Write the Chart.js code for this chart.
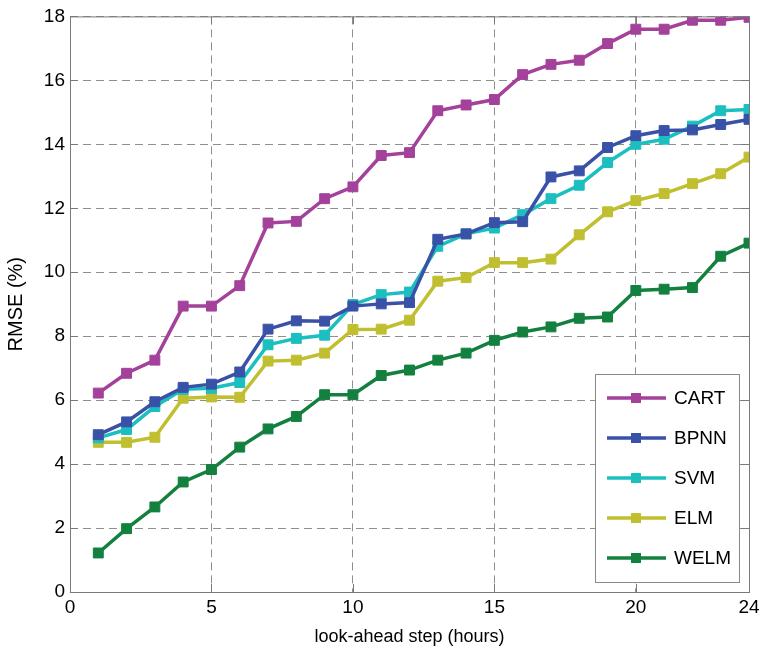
<!DOCTYPE html>
<html>
<head>
<meta charset="utf-8">
<script src="https://cdn.jsdelivr.net/npm/chart.js@4.4.1/dist/chart.umd.min.js"></script>
<style>
  html, body { margin: 0; padding: 0; background: #fff; }
</style>
</head>
<body>
<canvas id="myChart" width="760" height="652"></canvas>
<script>
// data
const steps = [1, 2, 3, 4, 5, 6, 7, 8, 9, 10, 11, 12, 13, 14, 15, 16, 17, 18, 19, 20, 21, 22, 23, 24];
const xTicks = [0, 5, 10, 15, 20, 24];
const yTicks = [0, 2, 4, 6, 8, 10, 12, 14, 16, 18];

const cart = [6.22, 6.84, 7.25, 8.94, 8.94, 9.58, 11.54, 11.59, 12.3, 12.67, 13.65, 13.74, 15.05, 15.23, 15.4, 16.18, 16.5, 16.63, 17.15, 17.6, 17.6, 17.88, 17.88, 17.97];
const bpnn = [4.92, 5.32, 5.95, 6.4, 6.5, 6.88, 8.22, 8.48, 8.47, 8.94, 9.01, 9.05, 11.03, 11.2, 11.55, 11.58, 12.98, 13.17, 13.9, 14.27, 14.43, 14.45, 14.62, 14.78];
const svm = [4.82, 5.08, 5.8, 6.34, 6.37, 6.55, 7.73, 7.93, 8.03, 8.99, 9.3, 9.38, 10.81, 11.2, 11.38, 11.8, 12.3, 12.72, 13.43, 14.0, 14.16, 14.57, 15.05, 15.09];
const elm = [4.68, 4.68, 4.84, 6.06, 6.1, 6.09, 7.22, 7.25, 7.47, 8.21, 8.22, 8.5, 9.72, 9.83, 10.3, 10.3, 10.41, 11.17, 11.89, 12.24, 12.46, 12.77, 13.08, 13.6];
const welm = [1.22, 1.98, 2.66, 3.44, 3.83, 4.53, 5.1, 5.49, 6.17, 6.17, 6.77, 6.94, 7.25, 7.47, 7.87, 8.13, 8.29, 8.56, 8.6, 9.43, 9.47, 9.52, 10.5, 10.91];

const names = ["CART", "BPNN", "SVM", "ELM", "WELM"];
const series = [cart, bpnn, svm, elm, welm];
const colors = ["#a3419b", "#3a51a8", "#1cbfc0", "#c0bf30", "#13803f"];

const fontFam = "'Liberation Sans', Arial, sans-serif";
const gridColor = "#8f8f8f";

// frame with inward ticks, like the matlab box
const framePlugin = {
  id: "frame",
  afterDraw(chart) {
    const { ctx, chartArea: a, scales } = chart;
    ctx.save();
    ctx.strokeStyle = "#7a7a7a";
    ctx.lineWidth = 1;
    ctx.strokeRect(a.left + 0.5, a.top + 0.5, a.right - a.left, a.bottom - a.top);
    ctx.beginPath();
    xTicks.forEach((v) => {
      const px = Math.round(scales.x.getPixelForValue(v)) + 0.5;
      ctx.moveTo(px, a.bottom); ctx.lineTo(px, a.bottom - 8);
      ctx.moveTo(px, a.top); ctx.lineTo(px, a.top + 8);
    });
    yTicks.forEach((v) => {
      const py = Math.round(scales.y.getPixelForValue(v)) + 0.5;
      ctx.moveTo(a.left, py); ctx.lineTo(a.left + 8, py);
      ctx.moveTo(a.right, py); ctx.lineTo(a.right - 8, py);
    });
    ctx.stroke();
    ctx.restore();
  },
};

// legend box in the lower right corner
const legendBox = {
  id: "legendBox",
  afterDraw(chart) {
    const { ctx, chartArea: a } = chart;
    const w = 144, h = 208;
    const x0 = a.right - 10 - w, y0 = a.bottom - 10 - h;
    ctx.save();
    ctx.fillStyle = "#fff";
    ctx.fillRect(x0, y0, w, h);
    ctx.strokeStyle = "#8a8a8a";
    ctx.lineWidth = 1;
    ctx.strokeRect(x0 + 0.5, y0 + 0.5, w, h);
    chart.data.datasets.forEach((ds, i) => {
      const y = y0 + 24 + i * 40;
      ctx.strokeStyle = ds.borderColor;
      ctx.lineWidth = 3.5;
      ctx.beginPath();
      ctx.moveTo(x0 + 12, y);
      ctx.lineTo(x0 + 71, y);
      ctx.stroke();
      ctx.fillStyle = ds.borderColor;
      ctx.fillRect(x0 + 41 - 5, y - 5, 10, 10);
      ctx.fillStyle = "#000";
      ctx.font = "19px " + fontFam;
      ctx.textBaseline = "middle";
      ctx.fillText(ds.label, x0 + 79, y + 1);
    });
    ctx.restore();
  },
};

const ctx = document.getElementById("myChart").getContext("2d");
const chart = new Chart(ctx, {
  type: "line",
  data: {
    labels: steps,
    datasets: names.map((n, i) => ({
      label: n,
      data: steps.map((s, j) => ({ x: s, y: series[i][j] })),
      borderColor: colors[i],
      backgroundColor: colors[i],
      borderWidth: 3.5,
      pointStyle: "rect",
      pointRadius: 7,
      pointBorderWidth: 1,
      pointHoverRadius: 7,
      tension: 0,
      fill: false,
    })),
  },
  options: {
    responsive: false,
    animation: false,
    layout: { padding: { top: 14, right: 11, left: 0, bottom: 0 } },
    plugins: {
      legend: { display: false },
      tooltip: { enabled: false },
    },
    scales: {
      x: {
        type: "linear",
        min: 0,
        max: 24,
        afterBuildTicks: (s) => { s.ticks = xTicks.map((v) => ({ value: v })); },
        afterFit: (s) => { s.height = 60; s.paddingRight = 0; s.paddingLeft = 0; },
        grid: { color: gridColor, lineWidth: 1, drawTicks: false },
        border: { display: false, dash: [8, 5] },
        ticks: { color: "#000", font: { family: fontFam, size: 19 }, padding: 4, maxRotation: 0 },
        title: { display: true, text: "look-ahead step (hours)", color: "#000", font: { family: fontFam, size: 18 }, padding: { top: 4 } },
      },
      y: {
        min: 0,
        max: 18,
        afterBuildTicks: (s) => { s.ticks = yTicks.map((v) => ({ value: v })); },
        afterFit: (s) => { s.width = 70; },
        grid: { color: gridColor, lineWidth: 1, drawTicks: false },
        border: { display: false, dash: [8, 5] },
        ticks: { color: "#000", font: { family: fontFam, size: 19 }, padding: 5 },
        title: { display: true, text: "RMSE (%)", color: "#000", font: { family: fontFam, size: 20 }, padding: { bottom: 2 } },
      },
    },
  },
  plugins: [framePlugin, legendBox],
});
</script>
</body>
</html>
